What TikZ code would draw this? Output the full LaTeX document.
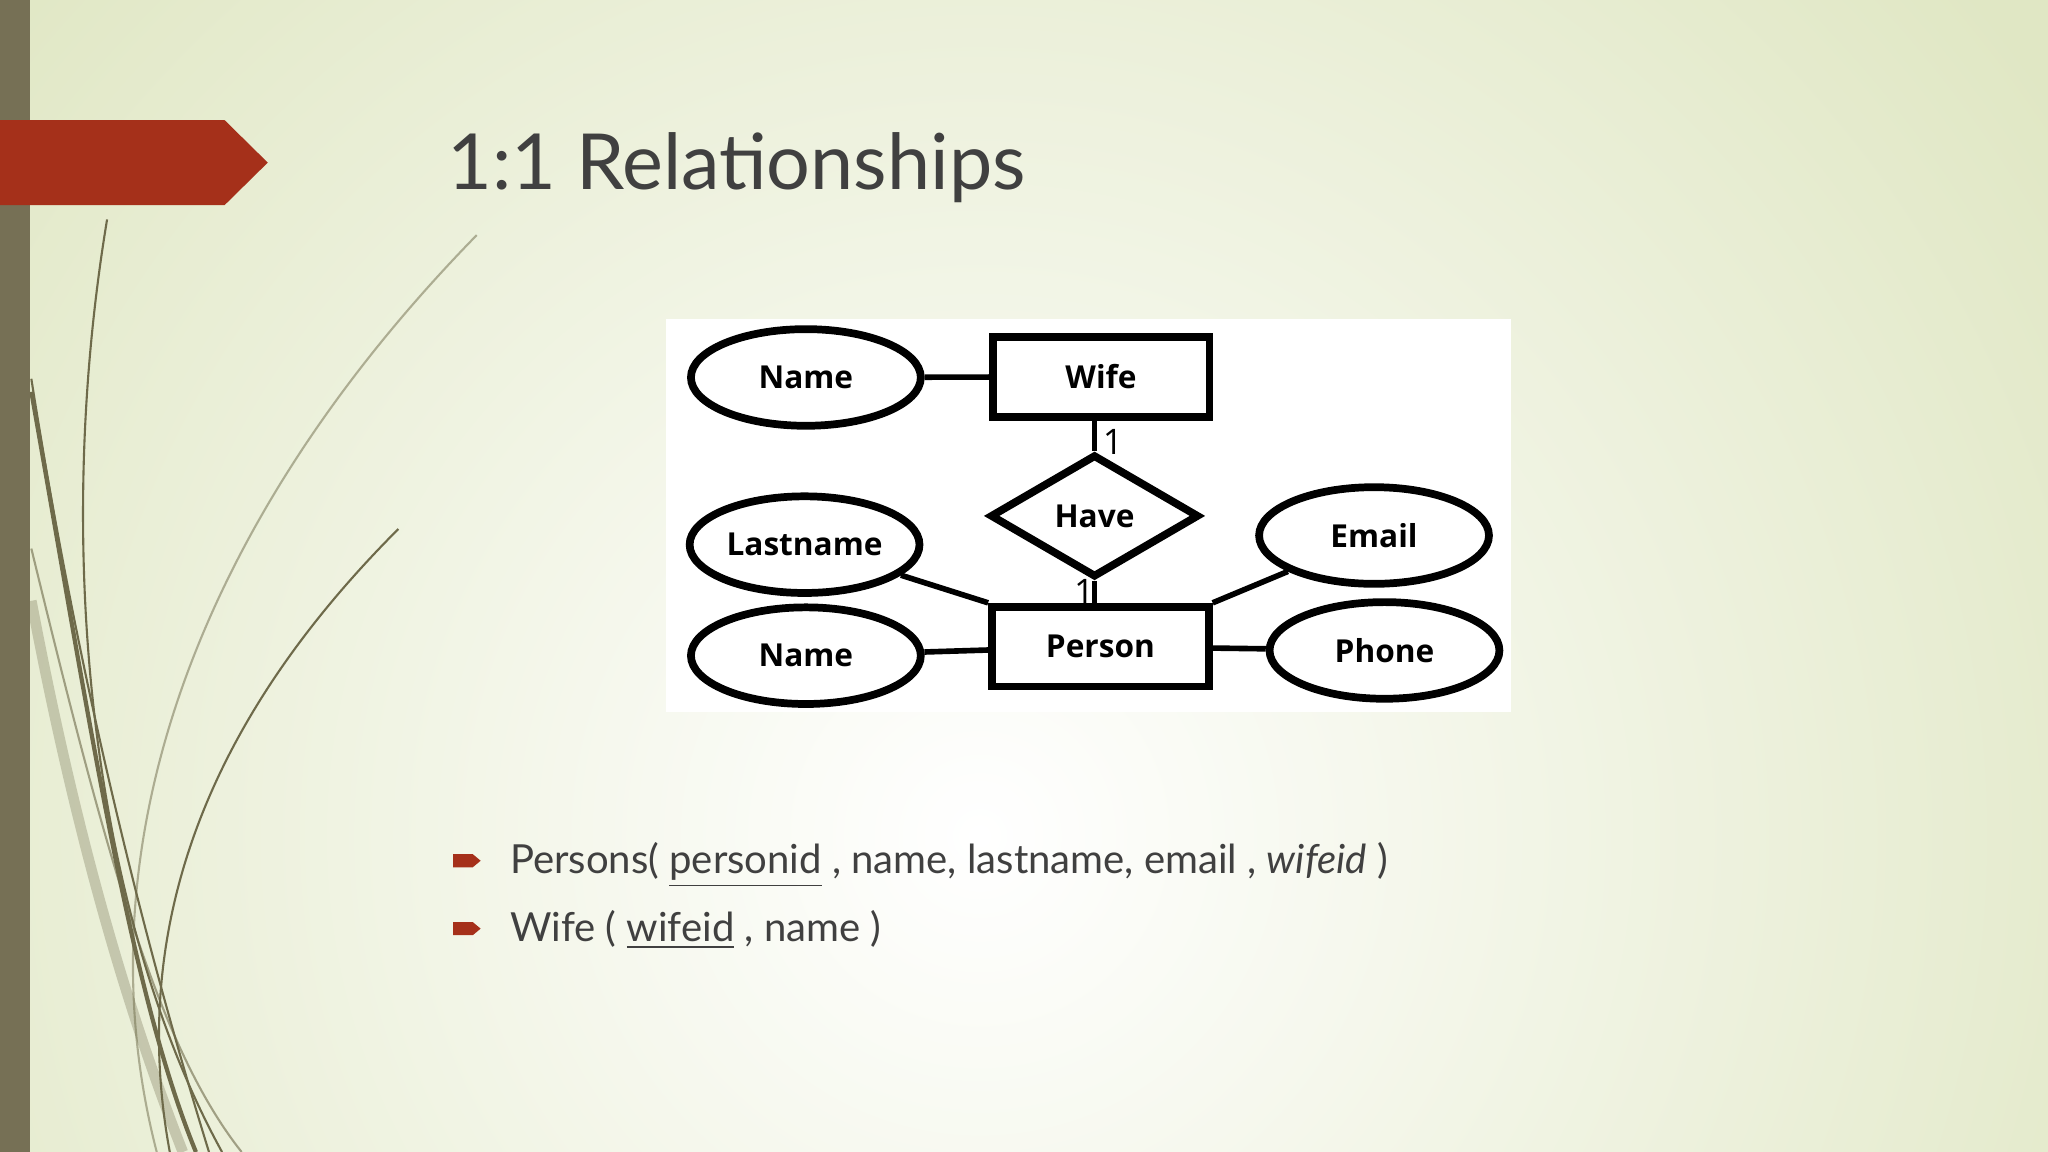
\documentclass[tikz,border=0pt]{standalone}
\usepackage{fontspec}
\setmainfont{Lato}
\newfontfamily\erfont{Open Sans}
\usetikzlibrary{shapes.geometric}
\definecolor{bar}{HTML}{767055}
\definecolor{redarrow}{HTML}{A5301A}
\definecolor{bgedge}{HTML}{E0E7C4}
\definecolor{txt}{HTML}{404040}
\definecolor{curve}{HTML}{6E6A4A}
\begin{document}
\begin{tikzpicture}[x=0.013061cm,y=-0.013061cm,
  ent/.style={draw,line width=2.2pt,minimum width=166*0.013061cm,minimum height=61*0.013061cm,font=\erfont\bfseries\fontsize{9}{11}\selectfont},
  att/.style={draw,ellipse,line width=2.2pt,minimum width=176*0.013061cm,minimum height=74*0.013061cm,inner sep=0pt,font=\erfont\bfseries\fontsize{9}{11}\selectfont},
  rel/.style={draw,diamond,aspect=1.7,line width=2.2pt,minimum width=160*0.013061cm,minimum height=94*0.013061cm,inner sep=0pt,font=\erfont\bfseries\fontsize{9}{11}\selectfont},
  lnk/.style={line width=1.6pt},
  card/.style={font=\erfont\fontsize{10}{12}\selectfont,inner sep=1pt},
  bul/.style={anchor=base west,font=\fontsize{11.4}{14}\selectfont,text=txt,inner sep=0pt}]
\useasboundingbox (0,0) rectangle (1568,882);
\begin{scope}
\clip (0,0) rectangle (1568,882);
\fill[bgedge] (0,0) rectangle (1568,882);
\shade[inner color=white,outer color=bgedge] (750,640) circle (1000);
\end{scope}
% decorative curves
\begin{scope}[curve,line width=0.6pt]
\draw (82,168) .. controls (40,420) and (70,700) .. (170,882);
\draw (24,290) .. controls (60,520) and (110,720) .. (160,882);
\draw[line width=1.2pt] (24,300) .. controls (70,560) and (100,760) .. (150,882);
\draw (305,405) .. controls (150,560) and (100,720) .. (130,882);
\draw[opacity=0.5] (365,180) .. controls (150,400) and (60,650) .. (120,882);
\draw[opacity=0.3,line width=3pt] (24,460) .. controls (60,650) and (100,780) .. (140,882);
\draw[opacity=0.6] (24,420) .. controls (80,650) and (120,800) .. (185,882);
\end{scope}
\fill[bar] (0,0) rectangle (23,882);
\fill[redarrow] (0,92) -- (172,92) -- (205,124.5) -- (172,157) -- (0,157) -- cycle;
\node[anchor=base west,inner sep=0pt,text=txt,font=\fontsize{22}{26}\selectfont] (title) at (342,145) {1:1 Relationships};
% ER image
\fill[white] (510,244) rectangle (1157,545);
\node[ent] (wife) at (843,288.5) {Wife};
\node[ent] (person) at (842.5,495) {Person};
\node[rel] (have) at (838,395) {Have};
\node[att] (name1) at (617,289) {Name};
\node[att] (last) at (616,417) {Lastname};
\node[att] (name2) at (617,502) {Name};
\node[att] (email) at (1052,410) {Email};
\node[att] (phone) at (1060,498) {Phone};
\draw[lnk] (name1) -- (wife);
\draw[lnk] (wife.south -| have.north) -- (have.north);
\draw[lnk] (have.south) -- (have.south |- person.north);
\draw[lnk] (last) -- (person.north west);
\draw[lnk] (name2) -- (person);
\draw[lnk] (email) -- (person.north east);
\draw[lnk] (phone) -- (person);
\node[card] (c1) at (852,338) {1};
\node[card] (c2) at (830,453) {1};
% bullets
\foreach \yy in {659,711}{\fill[redarrow] (347,\yy-5) -- (362,\yy-5) -- (368,\yy) -- (362,\yy+5) -- (347,\yy+5) -- cycle;}
\node[bul] (t1) at (390,669) {Persons( \underline{personid} , name, lastname, email , \textit{wifeid} )};
\node[bul] (t2) at (390,721) {Wife ( \underline{wifeid} , name )};
\end{tikzpicture}
\end{document}
